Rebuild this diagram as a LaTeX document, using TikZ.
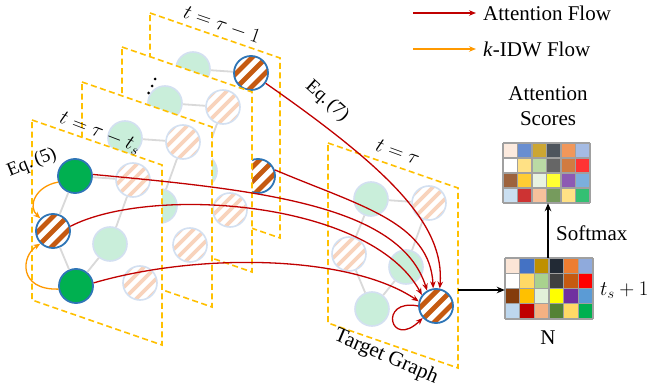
\documentclass[tikz,border=0pt]{standalone}
\usepackage{fontspec}
\setmainfont{Liberation Serif}
\usetikzlibrary{arrows.meta,calc}

\definecolor{planeC}{HTML}{FFC000}
\definecolor{attC}{HTML}{C00000}
\definecolor{idwC}{HTML}{FF9900}
\definecolor{hlBlue}{HTML}{2E75B6}
\definecolor{paleBlue}{HTML}{D3E0F1}
\definecolor{paleGreen}{HTML}{C9EEDA}
\definecolor{hlGreen}{HTML}{00B050}
\definecolor{hlStripe}{HTML}{C55A11}
\definecolor{paleStripe}{HTML}{F8D3BC}
\definecolor{edgeGray}{HTML}{D9D9D9}
\definecolor{gridGray}{HTML}{A0A0A0}

\tikzset{
  gnode/.style={circle, minimum size=34pt, inner sep=0pt},
  hlstripes/.style={path picture={\foreach \k in {-2,...,2}{\draw[#1, line width=4.8pt] ([shift={(\k*7.2pt,-\k*7.2pt)}]path picture bounding box.center) ++(-25pt,-25pt) -- ++(50pt,50pt);}}},
  palestripes/.style={path picture={\foreach \k in {-3,...,3}{\draw[#1, line width=3.6pt] ([shift={(\k*6pt,-\k*6pt)}]path picture bounding box.center) ++(-25pt,-25pt) -- ++(50pt,50pt);}}},
  palegreen/.style={gnode, fill=paleGreen, draw=paleBlue, line width=1.6pt},
  hlgreen/.style={gnode, fill=hlGreen, draw=hlBlue, line width=1.8pt},
  palestriped/.style={gnode, fill=white, draw=paleBlue, line width=1.6pt, palestripes=paleStripe},
  hlstriped/.style={gnode, fill=white, draw=hlBlue, line width=1.8pt, hlstripes=hlStripe},
  gedge/.style={draw=edgeGray, line width=1.8pt},
  planebox/.style={draw=planeC, fill=white, line width=1.6pt, dash pattern=on 6pt off 3.5pt},
  attflow/.style={draw=attC, line width=1.3pt, -{Stealth[length=7pt,width=5.5pt]}},
  idwflow/.style={draw=idwC, line width=1.3pt, -{Stealth[length=7pt,width=5.5pt]}},
  blackarrow/.style={draw=black, line width=1.4pt, -{Stealth[length=8pt,width=6.5pt]}},
  gridline/.style={draw=gridGray, line width=1.3pt},
  lbl/.style={inner sep=0pt, font=\fontsize{21}{25}\selectfont},
  eqlbl/.style={inner sep=0pt, font=\fontsize{19}{22}\selectfont},
}

\newcommand\plangraph[9]{%
  \begin{scope}[shift={(#2,#3)}]
    \draw[planebox] (0,0) -- (130,45) -- (130,225) -- (0,180) -- cycle;
    \node[#4] (#1a) at (43,56) {};
    \node[#5] (#1d) at (101,60) {};
    \node[#6] (#1b) at (21,111) {};
    \node[#7] (#1e) at (78,124) {};
    \node[#8] (#1c) at (44,166) {};
    \node[#9] (#1f) at (108,163) {};
    \draw[gedge] (#1a) -- (#1d) (#1a) -- (#1b) (#1d) -- (#1e) (#1b) -- (#1c) (#1c) -- (#1e);
  \end{scope}}

\newcommand\colorgrid[6]{%
  \foreach \hex [count=\n from 0] in {FBE5D6,4472C4,BF9000,222A35,ED7D31,8FAADC,FFFFFF,FFD966,A9D18E,404040,C55A11,FF0000,843C0C,FFC000,E2F0D9,FFFF00,7030A0,5B9BD5,BDD7EE,C00000,F4B183,548235,FFD966,00B050}{%
    \pgfmathtruncatemacro\cellrow{int(\n/6)}%
    \pgfmathtruncatemacro\cellcol{mod(\n,6)}%
    \definecolor{cellc}{HTML}{\hex}%
    \fill[cellc!#6!white] ({#2+\cellcol*#4},{#3+\cellrow*#5}) rectangle ++(#4,#5);}
  \foreach \i in {0,...,6} \draw[gridline] ({#2+\i*#4},#3) -- ++(0,{4*#5});
  \foreach \j in {0,...,4} \draw[gridline] (#2,{#3+\j*#5}) -- ++({6*#4},0);
  \node[inner sep=0pt, minimum width={6*#4}, minimum height={4*#5}] (#1) at ({#2+3*#4},{#3+2*#5}) {};
}

\begin{document}
\begin{tikzpicture}[x=1pt,y=-1pt]
\useasboundingbox (0,0) rectangle (650,390);

% stacked history planes (back to front)
\plangraph{pd}{150}{13}{palegreen}{hlstriped}{palestriped}{palegreen}{palegreen}{hlstriped}
\plangraph{pc}{122}{47}{palegreen}{palestriped}{palestriped}{palegreen}{palegreen}{palestriped}
\fill (155,79) circle (1.5) (152,86) circle (1.5) (148.5,93) circle (1.5);
\plangraph{pb}{82}{82}{palegreen}{palestriped}{palestriped}{palegreen}{palegreen}{palestriped}
\plangraph{pa}{32}{120}{hlgreen}{palestriped}{hlstriped}{palegreen}{hlgreen}{palestriped}
% target plane
\plangraph{tg}{328}{143}{palegreen}{palestriped}{palestriped}{palegreen}{palegreen}{hlstriped}

% plane labels
\node[lbl, rotate=-19] (lab1) at (222,25) {$t=\tau-1$};
\node[lbl, rotate=-21] (lab2) at (100,133) {$t=\tau-t_s$};
\node[lbl, rotate=-20] (lab3) at (398,152) {$t=\tau$};
\node[lbl, rotate=-23] (lab4) at (386,357) {Target Graph};
\node[eqlbl, rotate=22] (eq5) at (32,163) {Eq.\,(5)};
\node[eqlbl, rotate=-42] (eq7) at (327,101) {Eq.\,(7)};

% attention flows
\draw[attflow] (pdd.-35) .. controls (390,170) and (445,225) .. (tgf.78);
\draw[attflow] (pdf.20) .. controls (360,206) and (430,222) .. (tgf.99);
\draw[attflow] (paa.5) .. controls (260,190) and (400,205) .. (tgf.120);
\draw[attflow] (pab.15) .. controls (150,185) and (370,200) .. (tgf.142);
\draw[attflow] (pac.10) .. controls (200,252) and (350,255) .. (tgf.165);
\draw[attflow] (tgf.180) .. controls (378,298) and (390,350) .. (tgf.222);

% k-IDW flows
\draw[idwflow] (paa.200) .. controls (36,186) and (27,206) .. (pab.135);
\draw[idwflow] (pac.190) .. controls (18,290) and (21,256) .. (pab.225);

% grids
\colorgrid{agrid}{503}{143}{14.5}{15}{80}
\colorgrid{ngrid}{505}{258}{14.67}{15.25}{100}

\coordinate (tgout) at (458,290);
\draw[blackarrow] (tgout) -- (tgout -| ngrid.west);
\draw[blackarrow] (ngrid.north -| 548,0) -- (548,0 |- agrid.south);

\node[lbl, align=center] (attlab) at (548,106) {Attention\\Scores};
\node[lbl, anchor=west] (softlab) at (556,233) {Softmax};
\node[lbl, anchor=west] (tslab) at (600,290) {$t_s+1$};
\node[lbl] (nlab) at (548,338) {N};

% legend
\coordinate (lg1a) at (413,13);
\coordinate (lg1b) at (476,13);
\coordinate (lg2a) at (413,49);
\coordinate (lg2b) at (476,49);
\draw[attflow] (lg1a) -- (lg1b);
\draw[idwflow] (lg2a) -- (lg2b);
\node[lbl, anchor=west] (lg1t) at (483,13) {Attention Flow};
\node[lbl, anchor=west] (lg2t) at (483,49) {\textit{k}-IDW Flow};
\end{tikzpicture}
\end{document}
